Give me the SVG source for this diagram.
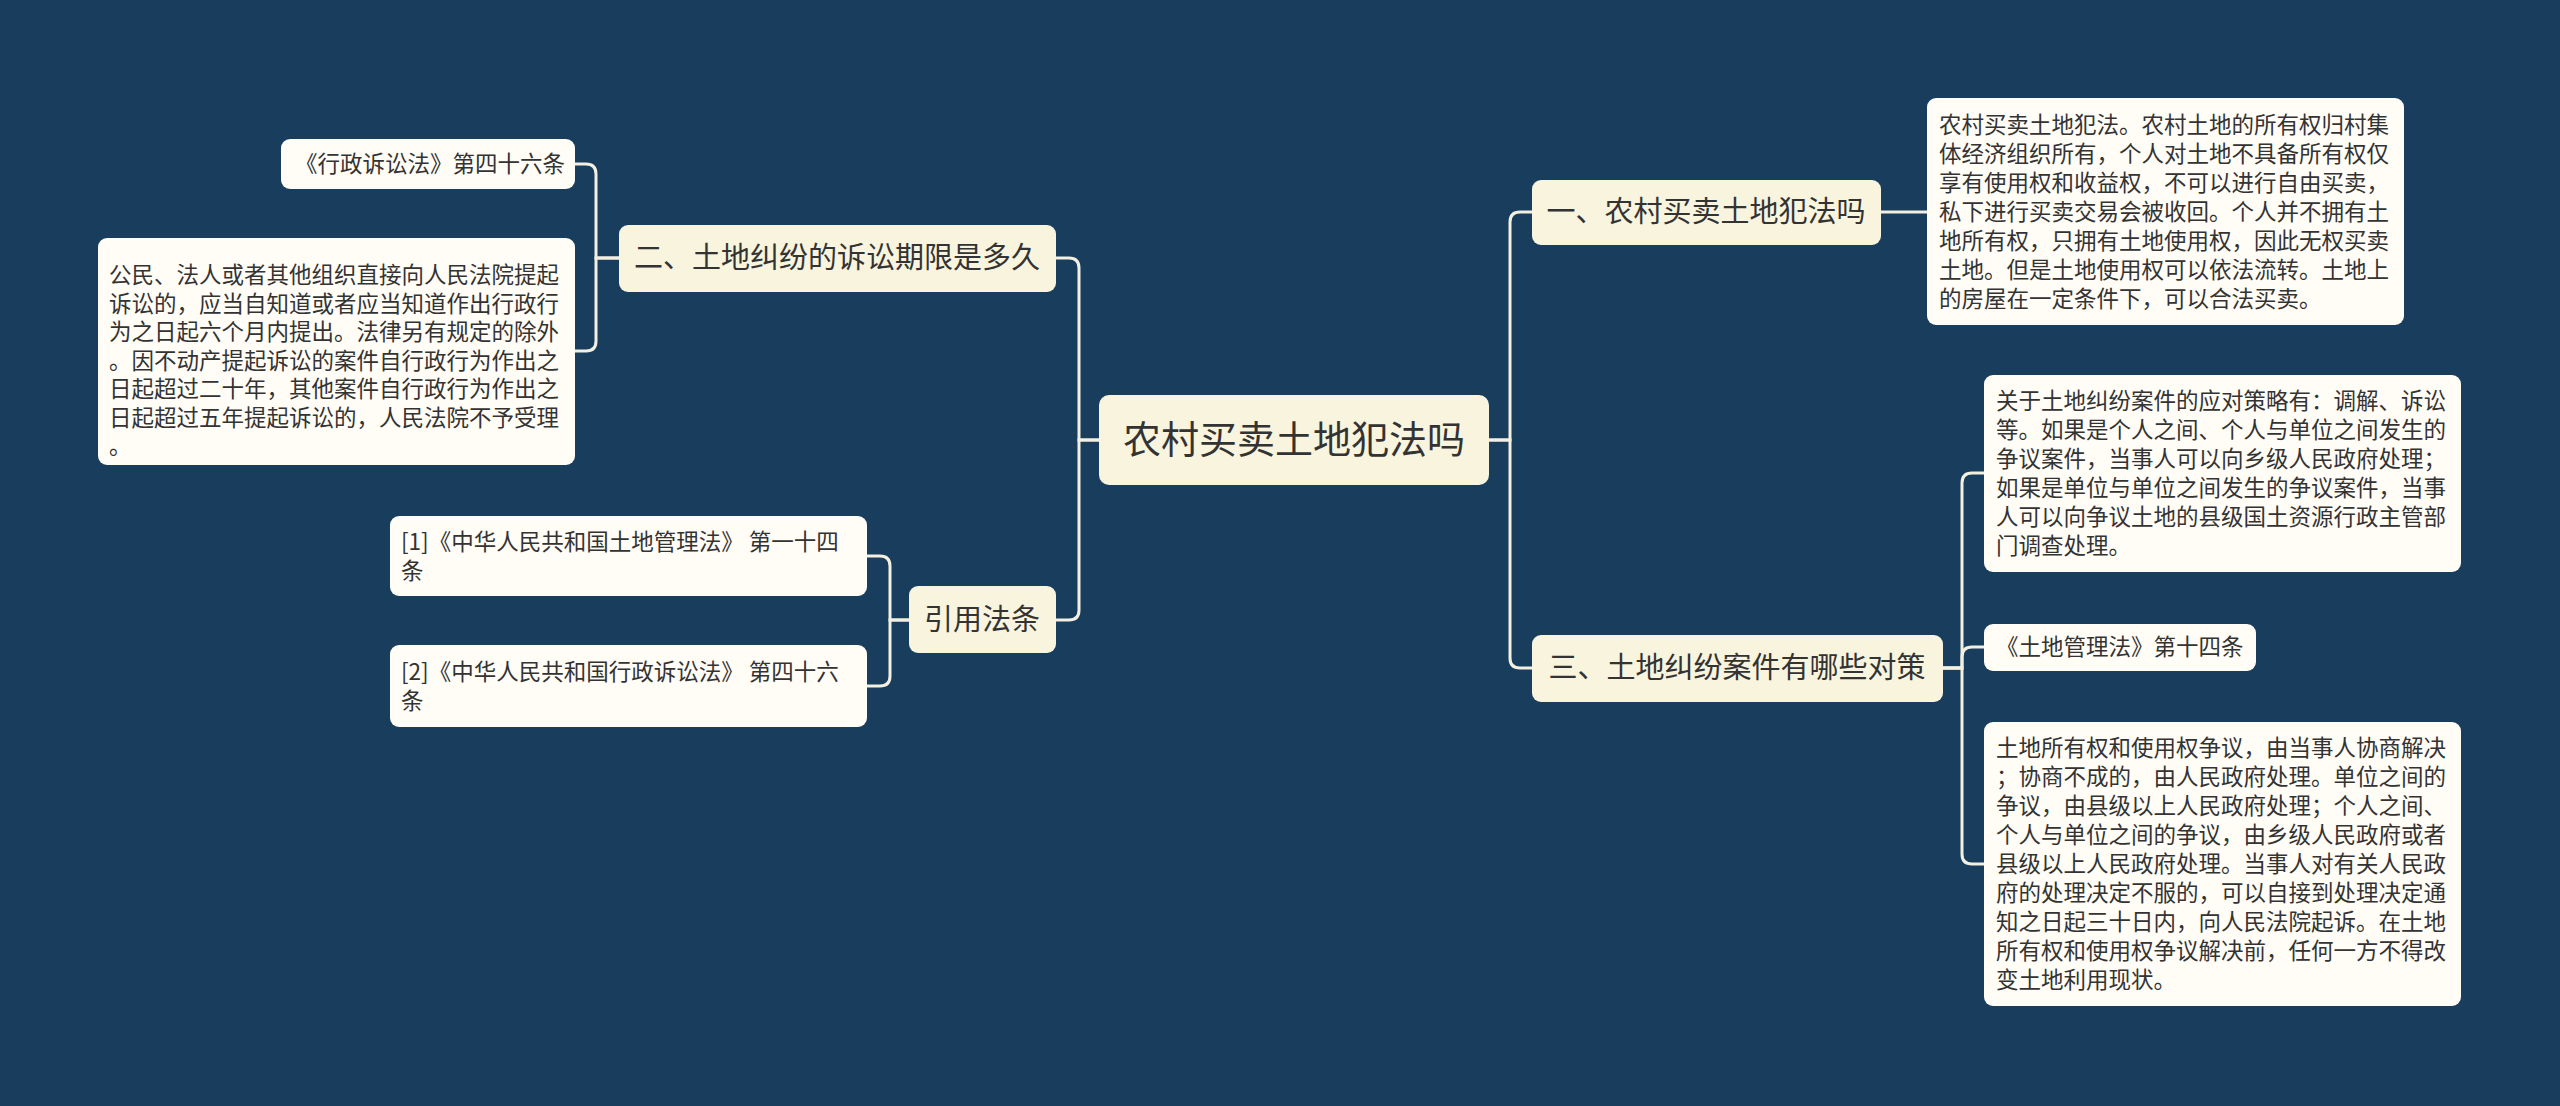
<svg xmlns="http://www.w3.org/2000/svg" width="2560" height="1106" viewBox="0 0 2560 1106">
<style>
text{font-family:"Noto Sans CJK SC","Noto Sans",sans-serif;fill:#333333}
.main{fill:#f8f4de}
.leaf{fill:#fffdf6}
.l{font-size:22.5px}
.m{font-size:29px;text-anchor:middle}
.c path{fill:none;stroke:#f3f0e2;stroke-width:3}
</style>
<rect width="2560" height="1106" fill="#183d5d"/>
<g class="c" id="connectors">
<path d="M1099 440 H1079 V268 Q1079 258 1069 258 H1056"/>
<path d="M1099 440 H1079 V610 Q1079 620 1069 620 H1056"/>
<path d="M1489 440 H1510 V222 Q1510 212 1520 212 H1532"/>
<path d="M1489 440 H1510 V658 Q1510 668 1520 668 H1532"/>
<path d="M1881 212 H1927"/>
<path d="M1943 668 H1962 V483 Q1962 473 1972 473 H1984"/>
<path d="M1943 668 H1962 V657 Q1962 647 1972 647 H1984"/>
<path d="M1943 668 H1962 V854 Q1962 864 1972 864 H1984"/>
<path d="M619 258 H596 V174 Q596 164 586 164 H575"/>
<path d="M619 258 H596 V341 Q596 351 586 351 H575"/>
<path d="M909 620 H890 V566 Q890 556 880 556 H867"/>
<path d="M909 620 H890 V676 Q890 686 880 686 H867"/>
</g>
<g id="root"><rect class="main" x="1099" y="395" width="390" height="90" rx="10"/><text x="1294" y="453" font-size="38" text-anchor="middle">农村买卖土地犯法吗</text></g>
<g id="n1"><rect class="main" x="1532" y="180" width="349" height="65" rx="9"/><text class="m" x="1706" y="222">一、农村买卖土地犯法吗</text></g>
<g id="n1a"><rect class="leaf" x="1927" y="98" width="477" height="227" rx="9"/>
<text class="l" x="1939" y="133">农村买卖土地犯法。农村土地的所有权归村集</text>
<text class="l" x="1939" y="162">体经济组织所有，个人对土地不具备所有权仅</text>
<text class="l" x="1939" y="191">享有使用权和收益权，不可以进行自由买卖，</text>
<text class="l" x="1939" y="220">私下进行买卖交易会被收回。个人并不拥有土</text>
<text class="l" x="1939" y="249">地所有权，只拥有土地使用权，因此无权买卖</text>
<text class="l" x="1939" y="278">土地。但是土地使用权可以依法流转。土地上</text>
<text class="l" x="1939" y="307">的房屋在一定条件下，可以合法买卖。</text></g>
<g id="n3"><rect class="main" x="1532" y="635" width="411" height="67" rx="9"/><text class="m" x="1737" y="678">三、土地纠纷案件有哪些对策</text></g>
<g id="n3a"><rect class="leaf" x="1984" y="375" width="477" height="197" rx="9"/>
<text class="l" x="1996" y="409">关于土地纠纷案件的应对策略有：调解、诉讼</text>
<text class="l" x="1996" y="438">等。如果是个人之间、个人与单位之间发生的</text>
<text class="l" x="1996" y="467">争议案件，当事人可以向乡级人民政府处理；</text>
<text class="l" x="1996" y="496">如果是单位与单位之间发生的争议案件，当事</text>
<text class="l" x="1996" y="525">人可以向争议土地的县级国土资源行政主管部</text>
<text class="l" x="1996" y="554">门调查处理。</text></g>
<g id="n3b"><rect class="leaf" x="1984" y="624" width="272" height="47" rx="9"/><text class="l" x="1996" y="655">《土地管理法》第十四条</text></g>
<g id="n3c"><rect class="leaf" x="1984" y="722" width="477" height="284" rx="9"/>
<text class="l" x="1996" y="756">土地所有权和使用权争议，由当事人协商解决</text>
<text class="l" x="1996" y="785">；协商不成的，由人民政府处理。单位之间的</text>
<text class="l" x="1996" y="814">争议，由县级以上人民政府处理；个人之间、</text>
<text class="l" x="1996" y="843">个人与单位之间的争议，由乡级人民政府或者</text>
<text class="l" x="1996" y="872">县级以上人民政府处理。当事人对有关人民政</text>
<text class="l" x="1996" y="901">府的处理决定不服的，可以自接到处理决定通</text>
<text class="l" x="1996" y="930">知之日起三十日内，向人民法院起诉。在土地</text>
<text class="l" x="1996" y="959">所有权和使用权争议解决前，任何一方不得改</text>
<text class="l" x="1996" y="988">变土地利用现状。</text></g>
<g id="n2"><rect class="main" x="619" y="225" width="437" height="67" rx="9"/><text class="m" x="837" y="268">二、土地纠纷的诉讼期限是多久</text></g>
<g id="n2a"><rect class="leaf" x="281" y="139" width="294" height="50" rx="9"/><text class="l" x="565" y="172" text-anchor="end">《行政诉讼法》第四十六条</text></g>
<g id="n2b"><rect class="leaf" x="98" y="238" width="477" height="227" rx="9"/>
<text class="l" x="109" y="283">公民、法人或者其他组织直接向人民法院提起</text>
<text class="l" x="109" y="311.5">诉讼的，应当自知道或者应当知道作出行政行</text>
<text class="l" x="109" y="340">为之日起六个月内提出。法律另有规定的除外</text>
<text class="l" x="109" y="368.5">。因不动产提起诉讼的案件自行政行为作出之</text>
<text class="l" x="109" y="397">日起超过二十年，其他案件自行政行为作出之</text>
<text class="l" x="109" y="425.5">日起超过五年提起诉讼的，人民法院不予受理</text>
<text class="l" x="109" y="454">。</text></g>
<g id="n4"><rect class="main" x="909" y="586" width="147" height="67" rx="9"/><text class="m" x="982" y="630">引用法条</text></g>
<g id="n4a"><rect class="leaf" x="390" y="516" width="477" height="80" rx="9"/>
<text class="l" x="401" y="550">[1]《中华人民共和国土地管理法》 第一十四</text>
<text class="l" x="401" y="579">条</text></g>
<g id="n4b"><rect class="leaf" x="390" y="645" width="477" height="82" rx="9"/>
<text class="l" x="401" y="680">[2]《中华人民共和国行政诉讼法》 第四十六</text>
<text class="l" x="401" y="709">条</text></g>
</svg>
